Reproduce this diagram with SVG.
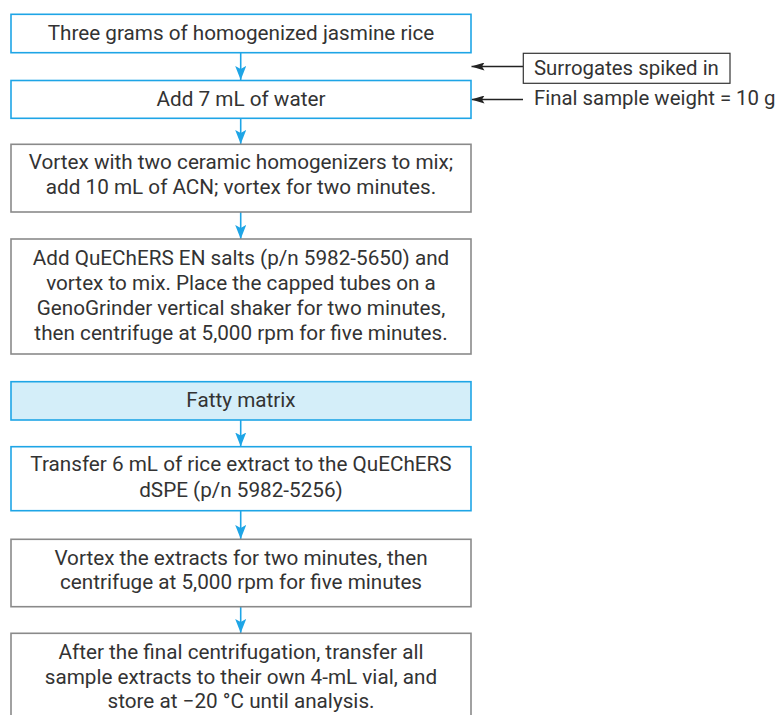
<svg xmlns="http://www.w3.org/2000/svg" width="781" height="715" viewBox="0 0 781 715">
<style>
.t{font-family:Roboto,"Liberation Sans",sans-serif;font-size:20.7px;fill:#333;text-anchor:middle}
.tl{font-family:Roboto,"Liberation Sans",sans-serif;font-size:20.4px;fill:#333}
.bb{fill:#fff;stroke:#1ea5e6;stroke-width:1.6}
.gb{fill:#fff;stroke:#8a8a8a;stroke-width:1.6}
.fb{fill:#d4eef9;stroke:#1ea5e6;stroke-width:1.6}
.ca{stroke:#1ea5e6;stroke-width:1.6;fill:none}
.ka{stroke:#222;stroke-width:1.4;fill:none}
</style>
<defs>
<marker id="ab" markerUnits="userSpaceOnUse" markerWidth="14" markerHeight="11" viewBox="0 0 14 11" refX="14" refY="5.5" orient="auto">
<path d="M0,0 L14,5.5 L0,11 L3,5.5 z" fill="#1ea5e6"/>
</marker>
<marker id="ak" markerUnits="userSpaceOnUse" markerWidth="13" markerHeight="8" viewBox="0 0 13 8" refX="13" refY="4" orient="auto">
<path d="M0,0 L13,4 L0,8 L2.5,4 z" fill="#222"/>
</marker>
</defs>
<g id="connectors">
<line class="ca" x1="240.7" y1="53" x2="240.7" y2="80" marker-end="url(#ab)"/>
<line class="ca" x1="240.7" y1="118.5" x2="240.7" y2="144" marker-end="url(#ab)"/>
<line class="ca" x1="240.7" y1="212" x2="240.7" y2="239" marker-end="url(#ab)"/>
<line class="ca" x1="240.7" y1="420" x2="240.7" y2="446.5" marker-end="url(#ab)"/>
<line class="ca" x1="240.7" y1="511" x2="240.7" y2="539" marker-end="url(#ab)"/>
<line class="ca" x1="240.7" y1="607" x2="240.7" y2="633" marker-end="url(#ab)"/>
<line class="ka" x1="523" y1="66.5" x2="471.5" y2="66.5" marker-end="url(#ak)"/>
<line class="ka" x1="523" y1="99.5" x2="471.5" y2="99.5" marker-end="url(#ak)"/>
</g>
<g id="n1">
<rect class="bb" x="11" y="14.3" width="460" height="38.4"/>
<text class="t" x="241" y="39.5">Three grams of homogenized jasmine rice</text>
</g>
<g id="n2">
<rect class="bb" x="11" y="80.5" width="460" height="37.8"/>
<text class="t" x="241" y="106">Add 7 mL of water</text>
</g>
<g id="n3">
<rect class="gb" x="11" y="144.3" width="460" height="67.7"/>
<text class="t" x="241" y="168.5">Vortex with two ceramic homogenizers to mix;</text>
<text class="t" x="241" y="194">add 10 mL of ACN; vortex for two minutes.</text>
</g>
<g id="n4">
<rect class="gb" x="11" y="239" width="460" height="115"/>
<text class="t" x="241" y="264.7">Add QuEChERS EN salts (p/n 5982-5650) and</text>
<text class="t" x="241" y="289.8">vortex to mix. Place the capped tubes on a</text>
<text class="t" x="241" y="314.8">GenoGrinder vertical shaker for two minutes,</text>
<text class="t" x="241" y="340">then centrifuge at 5,000 rpm for five minutes.</text>
</g>
<g id="n5">
<rect class="fb" x="11" y="381.7" width="460" height="38.3"/>
<text class="t" x="241" y="406.5">Fatty matrix</text>
</g>
<g id="n6">
<rect class="bb" x="11" y="446.7" width="460" height="64"/>
<text class="t" x="241" y="470.7">Transfer 6 mL of rice extract to the QuEChERS</text>
<text class="t" x="241" y="496.5">dSPE (p/n 5982-5256)</text>
</g>
<g id="n7">
<rect class="gb" x="11" y="539.3" width="460" height="67.4"/>
<text class="t" x="241" y="565">Vortex the extracts for two minutes, then</text>
<text class="t" x="241" y="589.3">centrifuge at 5,000 rpm for five minutes</text>
</g>
<g id="n8">
<rect class="gb" x="11" y="633.3" width="460" height="100"/>
<text class="t" x="241" y="659.3">After the final centrifugation, transfer all</text>
<text class="t" x="241" y="683.5">sample extracts to their own 4-mL vial, and</text>
<text class="t" x="241" y="708.3">store at −20 °C until analysis.</text>
</g>
<g id="n9">
<rect x="523.3" y="53.3" width="206.7" height="30" fill="#fff" stroke="#333" stroke-width="1.2"/>
<text class="tl" x="534" y="75">Surrogates spiked in</text>
</g>
<g id="n10">
<text class="tl" x="534" y="105">Final sample weight = 10 g</text>
</g>
</svg>
